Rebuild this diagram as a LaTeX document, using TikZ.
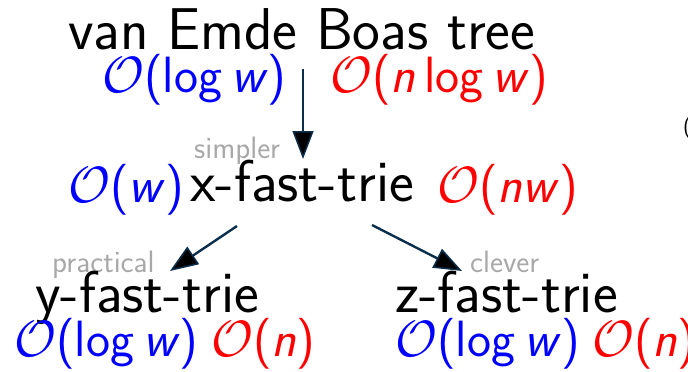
\documentclass[tikz,border=0pt]{standalone}
\usepackage{fontspec}
\usetikzlibrary{arrows.meta}
\DeclareFontShape{OMS}{cmsy}{m}{n}{<->cmsy10}{}
\definecolor{navy}{HTML}{0B2E4C}
\definecolor{labelgray}{HTML}{A8A8A8}
\definecolor{cblue}{HTML}{0000FF}
\definecolor{cred}{HTML}{FF0000}
\tikzset{
  big/.style={font=\sffamily\fontsize{59}{66}\selectfont, inner sep=0pt, anchor=base west},
  cx/.style={font=\sffamily\fontsize{51}{58}\selectfont, inner sep=0pt, anchor=base west},
  note/.style={font=\sffamily\fontsize{31}{35}\selectfont, text=labelgray, inner sep=0pt, anchor=base west},
  arr/.style={draw=navy, line width=2.4pt, -{Triangle[length=28pt,width=21pt,fill=black,line width=1.5pt]}}
}
\newcommand{\bigO}{$\mathcal{O}$}
\newcommand{\mylog}{log\hspace{0.18em}}
\begin{document}
\begin{tikzpicture}[x=1pt,y=-1pt]
\useasboundingbox (0,0) rectangle (688,372);
% top
\node[big] (veb) at (68,49) {van Emde Boas tree};
\node[cx, text=cblue] (veb-q) at (102,92) {\bigO(\mylog\textit{w})};
\node[cx, text=cred] (veb-s) at (330,92) {\bigO(\textit{n}\,\mylog\textit{w})};
% middle
\node[note] (simpler) at (194,158) {simpler};
\node[big] (xft) at (190,201) {x-fast-trie};
\node[cx, text=cblue] (xft-q) at (68,202) {\bigO(\textit{w})};
\node[cx, text=cred] (xft-s) at (437,202) {\bigO(\textit{nw})};
% bottom
\node[note] (practical) at (52,272) {practical};
\node[note] (clever) at (470,272) {clever};
\node[big] (yft) at (35,312) {y-fast-trie};
\node[big] (zft) at (395,312) {z-fast-trie};
\node[cx, text=cblue] (yft-q) at (14,356) {\bigO(\mylog\textit{w})};
\node[cx, text=cred] (yft-s) at (211,356) {\bigO(\textit{n})};
\node[cx, text=cblue] (zft-q) at (395,356) {\bigO(\mylog\textit{w})};
\node[cx, text=cred] (zft-s) at (592,356) {\bigO(\textit{n})};
% clipped glyph at right edge
\node[font=\sffamily\fontsize{22}{26}\selectfont, inner sep=0pt, anchor=base west] (edge) at (683,133) {(};
% arrows
\coordinate (a1s) at (303,69);
\coordinate (a1e) at (303,159);
\coordinate (a2s) at (237,226);
\coordinate (a2e) at (170,271);
\coordinate (a3s) at (372,225);
\coordinate (a3e) at (462,271);
\draw[arr] (a1s) -- (a1e);
\draw[arr] (a2s) -- (a2e);
\draw[arr] (a3s) -- (a3e);
\end{tikzpicture}
\end{document}
